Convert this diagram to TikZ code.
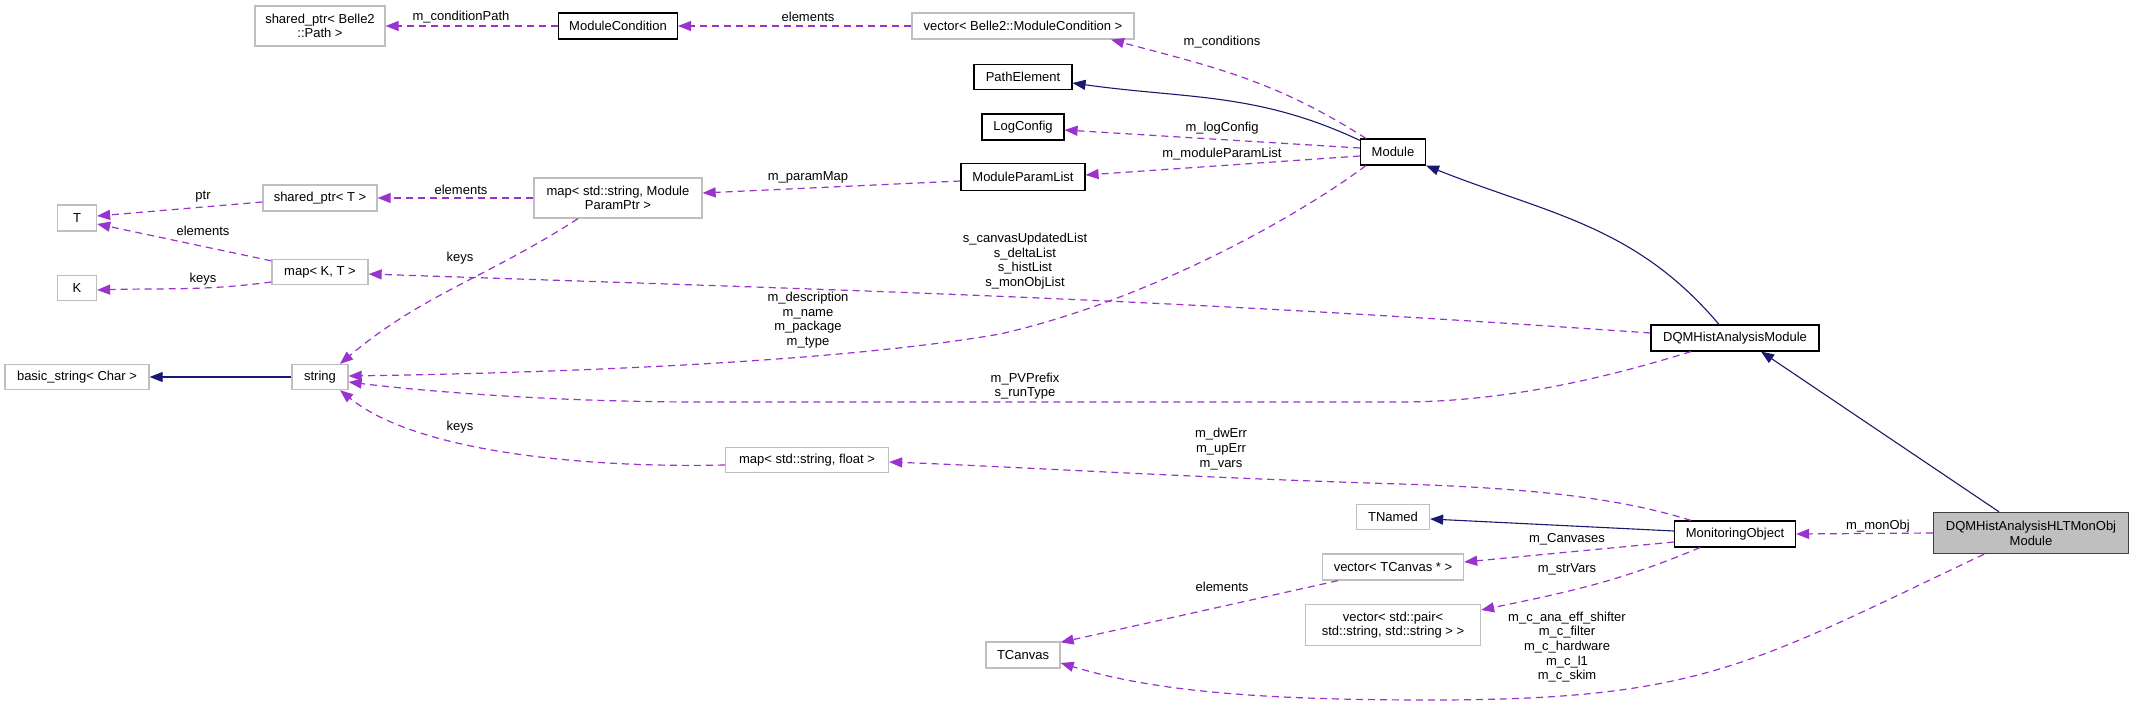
\documentclass[tikz,border=0pt]{standalone}
\usepackage{fontspec}
\setmainfont{Liberation Sans}
\usetikzlibrary{arrows.meta}

\definecolor{depcol}{HTML}{9A32CD}
\definecolor{inhcol}{HTML}{191970}
\definecolor{extcol}{HTML}{BFBFBF}

\begin{document}
\begin{tikzpicture}[
    x=1pt, y=-1pt,
    every node/.style={font=\fontsize{13}{14.7}\selectfont, align=center, inner sep=0pt},
    box/.style={draw=black, fill=white, line width=1.1pt, minimum height=26pt},
    ext/.style={box, draw=extcol, line width=1.3pt},
    cur/.style={box, fill=extcol, draw=black!75, line width=1.4pt},
    dep/.style={draw=depcol, line width=1.2pt, dash pattern=on 7pt off 5pt,
      -{Triangle[length=13pt, width=10pt]}},
    inh/.style={draw=inhcol, line width=1.1pt, -{Triangle[length=13pt, width=10pt]}}]

    \fill [white] (0,0) rectangle (2135,706);

    % classes
    \node [ext, minimum width=130pt, minimum height=40pt] (spBelle) at (320,26) {shared\_ptr< Belle2\\::Path >};
    \node [box, minimum width=119pt] (modCond) at (618,26) {ModuleCondition};
    \node [ext, minimum width=222pt] (vecCond) at (1023,26) {vector< Belle2::ModuleCondition >};
    \node [box, minimum width=98pt, minimum height=25pt] (pathEl) at (1023,77) {PathElement};
    \node [box, minimum width=82pt] (logCfg) at (1023,127) {LogConfig};
    \node [box, minimum width=65pt] (module) at (1393,152) {Module};
    \node [box, minimum width=124pt, minimum height=27pt] (modPL) at (1023,177) {ModuleParamList};
    \node [ext, minimum width=168pt, minimum height=40pt] (mapPP) at (618,198) {map< std::string, Module\\ParamPtr >};
    \node [ext, minimum width=114pt] (spT) at (320,198) {shared\_ptr< T >};
    \node [ext, minimum width=39pt] (T) at (77,218) {T};
    \node [ext, minimum width=96pt, minimum height=25pt] (mapKT) at (320,272) {map< K, T >};
    \node [ext, minimum width=39pt, minimum height=25pt] (K) at (77,288) {K};
    \node [ext, minimum width=144pt, minimum height=25pt] (basicStr) at (77,377) {basic\_string< Char >};
    \node [ext, minimum width=56pt, minimum height=25pt] (str) at (320,377) {string};
    \node [ext, minimum width=163pt, minimum height=25pt] (mapFl) at (807,460) {map< std::string, float >};
    \node [box, minimum width=168pt] (dqmHA) at (1735,338) {DQMHistAnalysisModule};
    \node [ext, minimum width=73pt, minimum height=25pt] (tnamed) at (1393,517) {TNamed};
    \node [ext, minimum width=141pt] (vecTC) at (1393,567) {vector< TCanvas * >};
    \node [ext, minimum width=175pt, minimum height=41pt] (vecPair) at (1393,625) {vector< std::pair<\\std::string, std::string > >};
    \node [ext, minimum width=74pt] (tcanvas) at (1023,655) {TCanvas};
    \node [box, minimum width=121pt] (monObj) at (1735,534) {MonitoringObject};
    \node [cur, minimum width=195pt, minimum height=41pt] (hltMO) at (2031,533) {DQMHistAnalysisHLTMonObj\\Module};

    % inheritance
    \draw [inh] ([yshift=-2pt]module.north west)
    .. controls (1257,92) and (1186,99) .. ([yshift=-6pt]pathEl.east);
    \draw [inh] ([xshift=-16pt]dqmHA.north)
    .. controls (1635,225) and (1548,214) .. (module.south east);
    \draw [inh] ([xshift=-32pt]hltMO.north) -- ([xshift=26pt]dqmHA.south);
    \draw [inh] ([yshift=3pt]monObj.west) -- ([yshift=-2pt]tnamed.east);
    \draw [inh] (str.west) -- (basicStr.east);

    % members
    \draw [dep] (modCond.west) -- (spBelle.east);
    \draw [dep] (vecCond.west) -- (modCond.east);
    \draw [dep] ([xshift=6pt]module.north west)
    .. controls (1276,81) and (1214,67) .. ([xshift=88pt]vecCond.south);
    \draw [dep] ([yshift=4pt]module.west) -- ([yshift=-3pt]logCfg.east);
    \draw [dep] ([yshift=-4pt]module.west) -- ([yshift=2pt]modPL.east);
    \draw [dep] ([yshift=-4pt]modPL.west) -- ([yshift=5pt]mapPP.east);
    \draw [dep] (mapPP.west) -- (spT.east);
    \draw [dep] ([yshift=-4pt]spT.west) -- ([yshift=2pt]T.east);
    \draw [dep] ([yshift=-2pt]mapKT.north west) -- ([yshift=-6pt]T.east);
    \draw [dep] ([yshift=-10pt]mapKT.west)
    .. controls (204,291) and (164,288) .. ([yshift=-2pt]K.east);
    \draw [dep] ([xshift=-40pt]mapPP.south)
    .. controls (486,278) and (423,294) .. ([xshift=20pt]str.north);
    \draw [dep] ([yshift=5pt]dqmHA.west)
    .. controls (1149,298) and (871,291) .. ([yshift=-2pt]mapKT.east);

    \draw [dep] ([xshift=-27pt]module.south)
    .. controls (1300,215) and (1150,300) .. (1000,334)
    .. controls (850,360) and (600,372) .. ([yshift=1pt]str.east);

    \draw [dep] ([xshift=-44pt]dqmHA.south)
    .. controls (1600,380) and (1500,402) .. (1400,402) -- (700,402)
    .. controls (560,402) and (430,392) .. ([yshift=-5pt]str.east);

    \draw [dep] ([xshift=-44pt]monObj.north)
    .. controls (1620,498) and (1530,488) .. (1400,484)
    .. controls (1200,478) and (1000,466) .. ([yshift=-2pt]mapFl.east);

    \draw [dep] ([yshift=-5pt]mapFl.west)
    .. controls (600,468) and (420,455) .. ([xshift=20pt]str.south);

    \draw [dep] ([yshift=-8pt]monObj.west) -- ([yshift=5pt]vecTC.east);
    \draw [dep] ([xshift=-35pt]monObj.south)
    .. controls (1618,582) and (1568,592) .. ([yshift=15pt]vecPair.east);
    \draw [dep] ([xshift=-55pt]vecTC.south) -- ([yshift=-1pt]tcanvas.north east);
    \draw [dep] (hltMO.west) -- (monObj.east);

    \draw [dep] ([xshift=-47pt]hltMO.south)
    .. controls (1750,665) and (1700,700) .. (1430,700)
    .. controls (1250,700) and (1150,690) .. ([yshift=-8pt]tcanvas.east);

    % labels
    \node (lCondPath) at (461,17) {m\_conditionPath};
    \node (lCondElem) at (808,17) {elements};
    \node (lConds) at (1222,42) {m\_conditions};
    \node (lLogCfg) at (1222,128) {m\_logConfig};
    \node (lModPL) at (1222,154) {m\_moduleParamList};
    \node (lParamMap) at (808,177) {m\_paramMap};
    \node (lSpElem) at (461,190) {elements};
    \node (lPtr) at (203,197) {ptr};
    \node (lMapElem) at (203,231) {elements};
    \node (lKeysK) at (203,279) {keys};
    \node (lKeysPP) at (460,258) {keys};
    \node (lLists) at (1025,261) {s\_canvasUpdatedList\\s\_deltaList\\s\_histList\\s\_monObjList};
    \node (lDescr) at (808,320) {m\_description\\m\_name\\m\_package\\m\_type};
    \node (lPrefix) at (1025,386) {m\_PVPrefix\\s\_runType};
    \node (lKeysFl) at (460,427) {keys};
    \node (lErr) at (1221,449) {m\_dwErr\\m\_upErr\\m\_vars};
    \node (lMonObj) at (1878,526) {m\_monObj};
    \node (lCanv) at (1567,539) {m\_Canvases};
    \node (lStrVars) at (1567,569) {m\_strVars};
    \node (lTcElem) at (1222,587) {elements};
    \node (lCuts) at (1567,647) {m\_c\_ana\_eff\_shifter\\m\_c\_filter\\m\_c\_hardware\\m\_c\_l1\\m\_c\_skim};

  \end{tikzpicture}
\end{document}
